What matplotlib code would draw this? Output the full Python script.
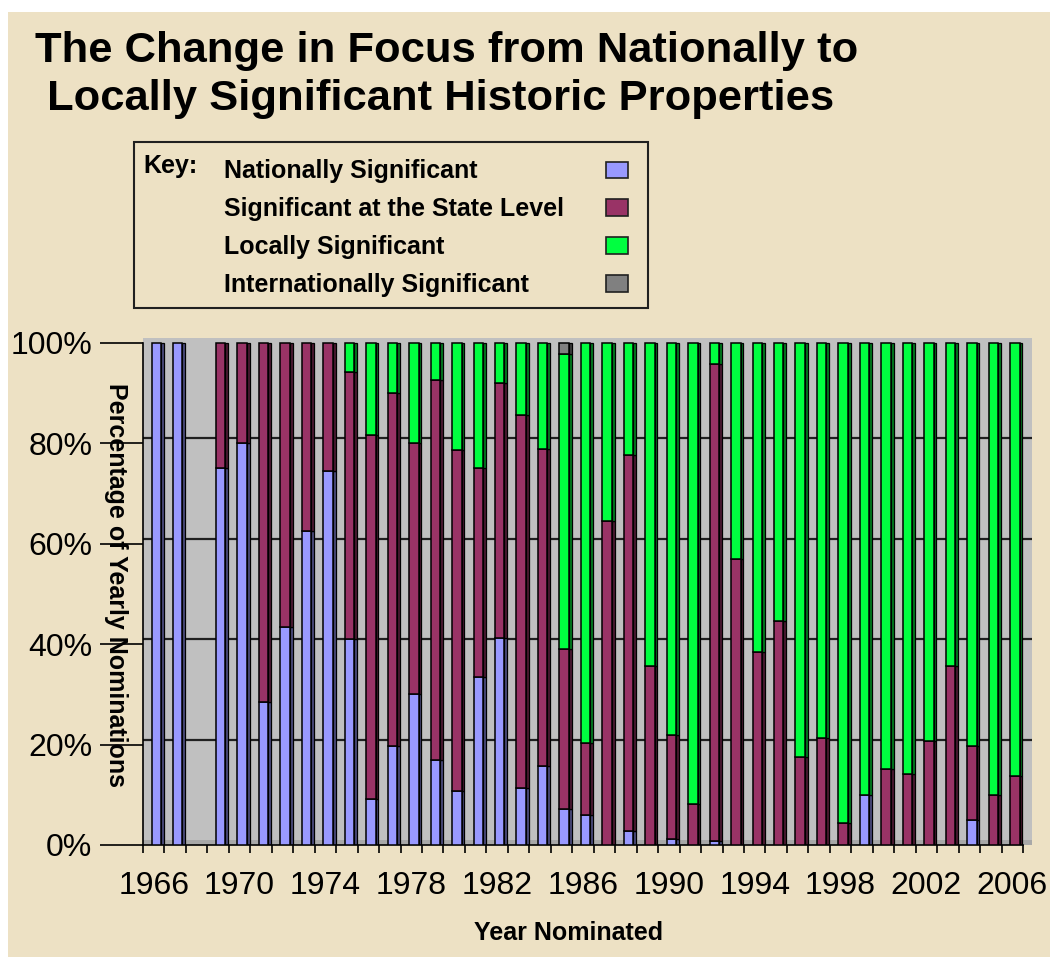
import numpy as np
import matplotlib
matplotlib.use("Agg")
import matplotlib.pyplot as plt
from matplotlib.patches import Rectangle
from matplotlib.transforms import ScaledTranslation

# ---------------- data ----------------
years = list(range(1966, 2007))
national = [100, 100, 0, 75, 80, 28.4, 43.5, 62.5, 74.5, 41, 9.2, 19.8, 30, 16.9,
            10.7, 33.5, 41.3, 11.3, 15.8, 7.2, 5.9, 0, 2.7, 0, 1.1, 0, 0.8, 0,
            0, 0, 0, 0, 0, 10, 0, 0, 0, 0, 4.9, 0, 0]
state = [0, 0, 0, 25, 20, 71.6, 56.5, 37.5, 25.5, 53.2, 72.5, 70.2, 50, 75.7,
         68, 41.5, 50.6, 74.3, 63.1, 31.9, 14.5, 64.5, 75, 35.7, 20.8, 8.1, 94.9, 57,
         38.4, 44.5, 17.6, 21.4, 4.3, 0, 15.1, 14.1, 20.7, 35.7, 14.8, 10, 13.8]
local = [0, 0, 0, 0, 0, 0, 0, 0, 0, 5.8, 18.3, 10, 20, 7.4,
         21.3, 25, 8.1, 14.4, 21.1, 58.6, 79.6, 35.5, 22.3, 64.3, 78.1, 91.9, 4.3, 43,
         61.6, 55.5, 82.4, 78.6, 95.7, 90, 84.9, 85.9, 79.3, 64.3, 80.3, 90, 86.2]
international = [0] * 19 + [2.3] + [0] * 21

series_names = ["Nationally Significant", "Significant at the State Level",
                "Locally Significant", "Internationally Significant"]
series_colors = ["#9999FF", "#993366", "#00FF40", "#808080"]
side_colors = ["#4D4D80", "#4D1A33", "#008020", "#404040"]
tick_label_years = list(range(1966, 2007, 4))
y_ticks = [0, 20, 40, 60, 80, 100]

# ---------------- figure ----------------
W, H = 1050, 957
BG = "#EDE1C4"
fig = plt.figure(figsize=(W / 100, H / 100), dpi=100, facecolor="white")
plt.rcParams["font.family"] = ["Liberation Sans", "DejaVu Sans"]


def fx(x):
    return x / W


def fy(y):
    return 1 - y / H


fig.patches.append(Rectangle((fx(8), 0), 1 - fx(8), fy(12), transform=fig.transFigure,
                             facecolor=BG, edgecolor="none", zorder=-10))

ax_l, ax_r, ax_t, ax_b = 143, 1032, 338, 845
ax = fig.add_axes([fx(ax_l), fy(ax_b), (ax_r - ax_l) / W, (ax_b - ax_t) / H])
ax.set_facecolor("#C0C0C0")

n = len(years)
x = np.arange(n)
ax.set_xlim(-0.5, n - 0.5 + 0.42)
ax.set_ylim(0, 100.94)

# floor strip and back-wall gridlines
ax.axhspan(0, 1.0, color="#A8A8A8", zorder=0.5, lw=0)
off = ScaledTranslation(0, 5 / 100, fig.dpi_scale_trans)
ax.hlines([20, 40, 60, 80], -0.5, n - 0.5 + 0.42, colors="#202020", lw=1.6,
          transform=ax.transData + off, zorder=1)

# stacked bars with a dark side face
bottom = np.zeros(n)
for vals, col, scol in zip([national, state, local, international], series_colors, side_colors):
    v = np.array(vals, dtype=float)
    m = v > 0
    ax.bar(x[m] + 0.34, v[m], width=0.13, bottom=bottom[m], align="edge",
           color=scol, edgecolor="black", lw=0.9, zorder=2)
    ax.bar(x[m] - 0.10, v[m], width=0.44, bottom=bottom[m], align="edge",
           color=col, edgecolor="black", lw=1.1, zorder=3)
    bottom = bottom + v

# spines
for s in ["top", "right"]:
    ax.spines[s].set_visible(False)
ax.spines["left"].set_bounds(0, 100)
ax.spines["left"].set_linewidth(1.2)
ax.spines["bottom"].set_linewidth(1.2)
ax.spines["bottom"].set_bounds(-0.5, n - 0.5)

# y ticks
ax.set_yticks(y_ticks)
ax.set_yticklabels([f"{v}%" for v in y_ticks], fontsize=23)
ax.tick_params(axis="y", length=31, width=1.2, pad=5.5, direction="out")

# x ticks: boundaries as major ticks, labels as minor ticks at centres
ax.set_xticks(np.arange(n + 1) - 0.5)
ax.set_xticklabels([])
ax.tick_params(axis="x", which="major", length=6, width=1.2, direction="out")
lab_pos = [years.index(y) for y in tick_label_years]
ax.set_xticks(lab_pos, minor=True)
ax.set_xticklabels([str(y) for y in tick_label_years], minor=True, fontsize=23)
ax.tick_params(axis="x", which="minor", length=0, pad=19)

# axis labels
fig.text(fx(115.5), fy(585), "Percentage of Yearly Nominations", rotation=-90,
         ha="center", va="center", fontsize=18, fontweight="bold")
fig.text(fx(569), fy(940), "Year Nominated", ha="center", va="baseline",
         fontsize=18, fontweight="bold")

# title
fig.text(fx(35), fy(62), "The Change in Focus from Nationally to", ha="left",
         va="baseline", fontsize=31.3, fontweight="bold")
fig.text(fx(35), fy(110), " Locally Significant Historic Properties", ha="left",
         va="baseline", fontsize=31.3, fontweight="bold")

# key box
kx0, ky0, kx1, ky1 = 133.8, 141.7, 647.6, 307.7
fig.patches.append(Rectangle((fx(kx0), fy(ky1)), (kx1 - kx0) / W, (ky1 - ky0) / H,
                             transform=fig.transFigure, facecolor="none",
                             edgecolor="#202020", lw=1.5, zorder=5))
fig.text(fx(143.4), fy(172.7), "Key:", ha="left", va="baseline", fontsize=18,
         fontweight="bold")
base = 178.3
step = 37.8
for i, (name, col) in enumerate(zip(series_names, series_colors)):
    by = base + i * step
    fig.text(fx(224.3), fy(by), name, ha="left", va="baseline", fontsize=18,
             fontweight="bold")
    fig.patches.append(Rectangle((fx(606), fy(by)), 22 / W, 16.7 / H,
                                 transform=fig.transFigure, facecolor=col,
                                 edgecolor="#202020", lw=1.2, zorder=5))

fig.savefig("out.png", dpi=100, facecolor=fig.get_facecolor())
